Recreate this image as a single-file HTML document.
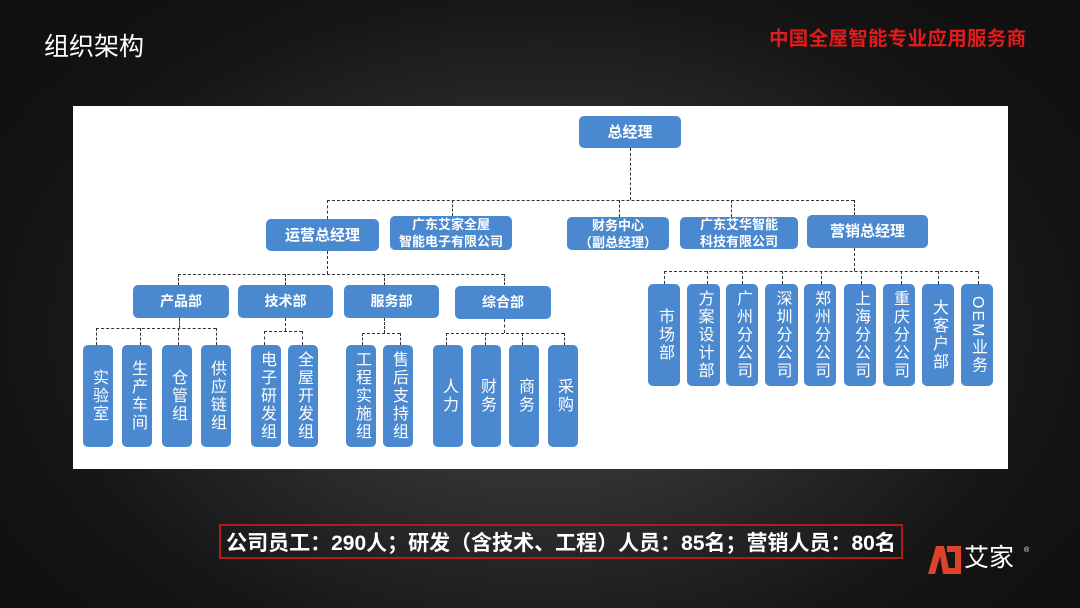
<!DOCTYPE html>
<html><head><meta charset="utf-8"><style>
*{margin:0;padding:0;box-sizing:border-box}
body{width:1080px;height:608px;overflow:hidden;background:radial-gradient(ellipse 620px 420px at 540px 330px,#4a4a4a 0%,#2c2c2c 45%,#161616 80%,#111 100%);font-family:"Liberation Sans","Noto Sans CJK SC",sans-serif;position:relative}
.a{position:absolute}
.panel{left:73px;top:106px;width:935px;height:363px;background:#fff}
.b{position:absolute;background:#4a88cf;border-radius:5px;color:#fff;display:flex;align-items:center;justify-content:center;text-align:center;font-weight:bold;font-size:14px;line-height:17px}
.v{position:absolute;background:#4a88cf;border-radius:5px;color:#fff;display:flex;align-items:center;justify-content:center;font-size:16px;line-height:16px;writing-mode:vertical-rl;letter-spacing:2px}
.h{position:absolute;border-top:1.3px dashed #333;height:0}
.l{position:absolute;border-left:1.3px dashed #333;width:0}
</style></head><body>
<div class="a" style="left:44px;top:27px;color:#fff;font-size:25px">组织架构</div>
<div class="a" style="left:769px;top:22px;color:#e01c1c;font-size:19.5px;font-weight:bold;letter-spacing:0.3px">中国全屋智能专业应用服务商</div>
<div class="a panel"></div>

<div class="b" style="left:579px;top:116px;width:102px;height:32px;font-size:15px">总经理</div>
<div class="l" style="left:630px;top:148px;height:52px"></div>
<div class="h" style="left:327px;top:200px;width:527px"></div>
<div class="l" style="left:327px;top:200px;height:19px"></div>
<div class="l" style="left:452px;top:200px;height:16px"></div>
<div class="l" style="left:619px;top:200px;height:17px"></div>
<div class="l" style="left:731px;top:200px;height:17px"></div>
<div class="l" style="left:854px;top:200px;height:15px"></div>

<div class="b" style="left:266px;top:219px;width:113px;height:32px;font-size:15px">运营总经理</div>
<div class="b" style="left:390px;top:216px;width:122px;height:34px;font-size:13px">广东艾家全屋<br>智能电子有限公司</div>
<div class="b" style="left:567px;top:217px;width:102px;height:33px;font-size:13px">财务中心<br>（副总经理）</div>
<div class="b" style="left:680px;top:217px;width:118px;height:32px;font-size:13px">广东艾华智能<br>科技有限公司</div>
<div class="b" style="left:807px;top:215px;width:121px;height:33px;font-size:15px">营销总经理</div>

<div class="l" style="left:327px;top:251px;height:23px"></div>
<div class="h" style="left:178px;top:274px;width:326px"></div>
<div class="l" style="left:178px;top:274px;height:11px"></div>
<div class="l" style="left:285px;top:274px;height:11px"></div>
<div class="l" style="left:384px;top:274px;height:11px"></div>
<div class="l" style="left:504px;top:274px;height:11px"></div>

<div class="b" style="left:133px;top:285px;width:96px;height:33px">产品部</div>
<div class="b" style="left:238px;top:285px;width:95px;height:33px">技术部</div>
<div class="b" style="left:344px;top:285px;width:95px;height:33px">服务部</div>
<div class="b" style="left:455px;top:286px;width:96px;height:33px">综合部</div>

<div class="l" style="left:179px;top:318px;height:10px"></div>
<div class="h" style="left:96px;top:328px;width:120px"></div>
<div class="l" style="left:96px;top:328px;height:17px"></div>
<div class="l" style="left:140px;top:328px;height:17px"></div>
<div class="l" style="left:178px;top:328px;height:17px"></div>
<div class="l" style="left:216px;top:328px;height:17px"></div>
<div class="l" style="left:285px;top:318px;height:13px"></div>
<div class="h" style="left:264px;top:331px;width:38px"></div>
<div class="l" style="left:264px;top:331px;height:14px"></div>
<div class="l" style="left:302px;top:331px;height:14px"></div>
<div class="l" style="left:384px;top:318px;height:15px"></div>
<div class="h" style="left:362px;top:333px;width:38px"></div>
<div class="l" style="left:362px;top:333px;height:12px"></div>
<div class="l" style="left:400px;top:333px;height:12px"></div>
<div class="l" style="left:504px;top:319px;height:14px"></div>
<div class="h" style="left:446px;top:333px;width:118px"></div>
<div class="l" style="left:446px;top:333px;height:12px"></div>
<div class="l" style="left:485px;top:333px;height:12px"></div>
<div class="l" style="left:522px;top:333px;height:12px"></div>
<div class="l" style="left:564px;top:333px;height:12px"></div>

<div class="v" style="left:83px;top:345px;width:30px;height:102px">实验室</div>
<div class="v" style="left:122px;top:345px;width:30px;height:102px">生产车间</div>
<div class="v" style="left:162px;top:345px;width:30px;height:102px">仓管组</div>
<div class="v" style="left:201px;top:345px;width:30px;height:102px">供应链组</div>
<div class="v" style="left:251px;top:345px;width:30px;height:102px">电子研发组</div>
<div class="v" style="left:288px;top:345px;width:30px;height:102px">全屋开发组</div>
<div class="v" style="left:346px;top:345px;width:30px;height:102px">工程实施组</div>
<div class="v" style="left:383px;top:345px;width:30px;height:102px">售后支持组</div>
<div class="v" style="left:433px;top:345px;width:30px;height:102px">人力</div>
<div class="v" style="left:471px;top:345px;width:30px;height:102px">财务</div>
<div class="v" style="left:509px;top:345px;width:30px;height:102px">商务</div>
<div class="v" style="left:548px;top:345px;width:30px;height:102px">采购</div>

<div class="l" style="left:854px;top:248px;height:23px"></div>
<div class="h" style="left:664px;top:271px;width:314px"></div>
<div class="l" style="left:664px;top:271px;height:13px"></div>
<div class="l" style="left:707px;top:271px;height:13px"></div>
<div class="l" style="left:742px;top:271px;height:13px"></div>
<div class="l" style="left:782px;top:271px;height:13px"></div>
<div class="l" style="left:821px;top:271px;height:13px"></div>
<div class="l" style="left:861px;top:271px;height:13px"></div>
<div class="l" style="left:901px;top:271px;height:13px"></div>
<div class="l" style="left:938px;top:271px;height:13px"></div>
<div class="l" style="left:978px;top:271px;height:13px"></div>

<div class="v" style="left:648px;top:284px;width:32px;height:102px">市场部</div>
<div class="v" style="left:687px;top:284px;width:33px;height:102px">方案设计部</div>
<div class="v" style="left:726px;top:284px;width:32px;height:102px">广州分公司</div>
<div class="v" style="left:765px;top:284px;width:33px;height:102px">深圳分公司</div>
<div class="v" style="left:804px;top:284px;width:32px;height:102px">郑州分公司</div>
<div class="v" style="left:844px;top:284px;width:32px;height:102px">上海分公司</div>
<div class="v" style="left:883px;top:284px;width:32px;height:102px">重庆分公司</div>
<div class="v" style="left:922px;top:284px;width:32px;height:102px">大客户部</div>
<div class="v" style="left:961px;top:284px;width:32px;height:102px">OEM业务</div>

<div class="a" style="left:219px;top:524px;width:684px;height:35px;border:2px solid #b01c1c;color:#fff;font-weight:bold;font-size:21px;display:flex;align-items:center;justify-content:center;white-space:nowrap">公司员工：290人；研发（含技术、工程）人员：85名；营销人员：80名</div>

<svg class="a" style="left:928px;top:546px" width="34" height="28" viewBox="0 0 34 28">
<polygon points="0,28 8,0 16,0 22,28 15,28 12,10 7,28" fill="#e0412a"/>
<polygon points="19,0 33,0 33,28 20,28 20,22 27,22 27,6 19,6" fill="#e0412a"/>
</svg>
<div class="a" style="left:964px;top:543px;color:#fff;font-size:25px;line-height:30px">艾家</div>
<div class="a" style="left:1024px;top:547px;color:#fff;font-size:7px">®</div>
</body></html>
